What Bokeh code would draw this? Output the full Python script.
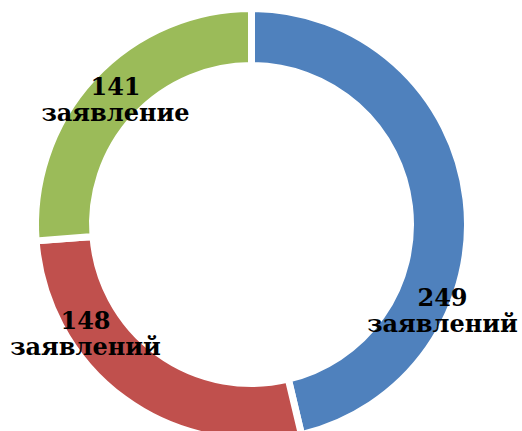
import math
from bokeh.plotting import figure
from bokeh.models import Range1d, ColumnDataSource
from bokeh.core.properties import value
from bokeh.embed import file_html
from bokeh.resources import INLINE

# data
counts = [249, 148, 141]
words = ["заявлений", "заявлений", "заявление"]
colors = ["#4F81BD", "#C0504D", "#9BBB59"]

# layout (picture coordinates, y measured downward from top)
W, H = 522, 431
cx, cy = 251, 224
r_out, r_in = 216, 159
# label centers: (dx, dy) offsets from ring centre
label_off = [(191, 85), (-166, 108), (-136, -126)]

def to_y(py):
    return H - py

total = sum(counts)
starts, ends = [], []
cum = 0.0
for c in counts:
    a0 = math.pi / 2 - 2 * math.pi * cum / total
    cum += c
    a1 = math.pi / 2 - 2 * math.pi * cum / total
    starts.append(a0)
    ends.append(a1)

p = figure(width=W, height=H, output_backend="svg", toolbar_location=None,
           x_range=Range1d(0, W), y_range=Range1d(0, H),
           min_border=0)
p.axis.visible = False
p.grid.visible = False
p.outline_line_color = None
p.background_fill_color = "white"
p.border_fill_color = "white"

src = ColumnDataSource(dict(start=starts, end=ends, color=colors))
p.annular_wedge(x=cx, y=to_y(cy), inner_radius=r_in, outer_radius=r_out,
                start_angle="start", end_angle="end", direction="clock",
                fill_color="color", line_color="white", line_width=7,
                source=src)

nx = [cx + d[0] for d in label_off]
ny_num = [to_y(cy + d[1] - 13) for d in label_off]
ny_word = [to_y(cy + d[1] + 14) for d in label_off]

p.text(x=nx, y=ny_num, text=[str(c) for c in counts],
       text_font=value("DejaVu Serif"), text_font_style="bold",
       text_font_size="24px", text_align="center", text_baseline="middle",
       text_color="black")
p.text(x=nx, y=ny_word, text=words,
       text_font=value("DejaVu Serif"), text_font_style="bold",
       text_font_size="24px", text_align="center", text_baseline="middle",
       text_color="black")

open("out.html", "w").write(file_html(p, INLINE))
